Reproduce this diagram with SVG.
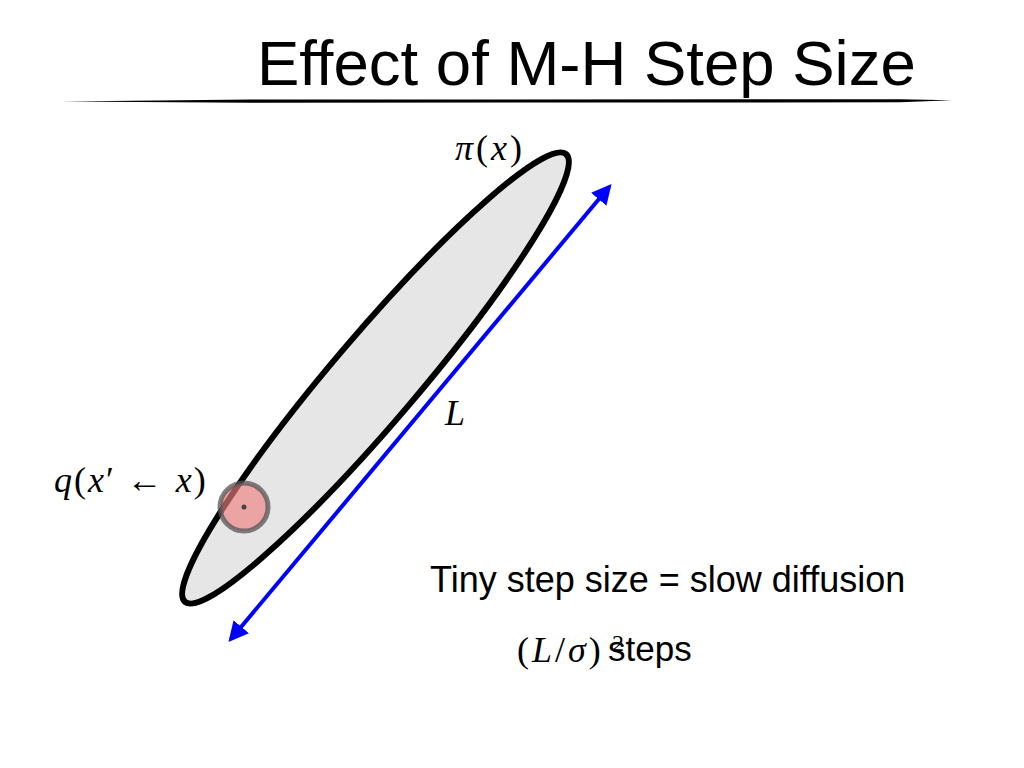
<svg xmlns="http://www.w3.org/2000/svg" width="1024" height="768" viewBox="0 0 1024 768">
<style>
.sans{font-family:"Liberation Sans",Arial,sans-serif;fill:#000}
.math{font-family:"Liberation Serif","Times New Roman",serif;font-style:italic;fill:#000}
.mup{font-family:"Liberation Serif","Times New Roman",serif;font-style:normal;fill:#000}
</style>
<defs>
<marker id="ah" viewBox="0 0 10 10" refX="8" refY="5" markerWidth="5" markerHeight="5" orient="auto-start-reverse" markerUnits="strokeWidth">
<path d="M0,0 L10,5 L0,10 Z" fill="#0000ff"/>
</marker>
</defs>
<rect width="1024" height="768" fill="#fff"/>
<g id="title">
<text class="sans" x="257" y="85" font-size="63.5">Effect of M-H Step Size</text>
<polygon points="62,101.5 250,99.6 900,99.2 952,100.3 900,102.3 250,102.8" fill="#000"/>
</g>
<g id="distribution">
<ellipse cx="375.5" cy="378" rx="294" ry="43" transform="rotate(-49.6 375.5 378)" fill="#e6e6e6" stroke="#000" stroke-width="6"/>
<text class="math" x="455" y="160" font-size="36" letter-spacing="3">π<tspan class="mup">(</tspan>x<tspan class="mup">)</tspan></text>
</g>
<g id="connectors">
<line x1="231" y1="639" x2="609" y2="187" stroke="#0000ff" stroke-width="4" marker-start="url(#ah)" marker-end="url(#ah)"/>
</g>
<g id="length-label">
<text class="math" x="445" y="425" font-size="36">L</text>
</g>
<g id="proposal">
<circle cx="244" cy="507" r="24" fill="#f08080" fill-opacity="0.65" stroke="#555" stroke-opacity="0.75" stroke-width="5"/>
<circle cx="244" cy="507" r="2.5" fill="#444"/>
<text class="math" x="54" y="492" font-size="36" letter-spacing="2">q<tspan class="mup">(</tspan>x<tspan class="mup">′ ← </tspan>x<tspan class="mup">)</tspan></text>
</g>
<g id="caption">
<text class="sans" x="430" y="592" font-size="36">Tiny step size = slow diffusion</text>
<text class="math" x="517" y="662" font-size="36" letter-spacing="3"><tspan class="mup">(</tspan>L<tspan class="mup">/</tspan>σ<tspan class="mup">)</tspan></text>
<text class="mup" x="612" y="651" font-size="24">2</text>
<text class="sans" x="608" y="661" font-size="35">steps</text>
</g>
</svg>
